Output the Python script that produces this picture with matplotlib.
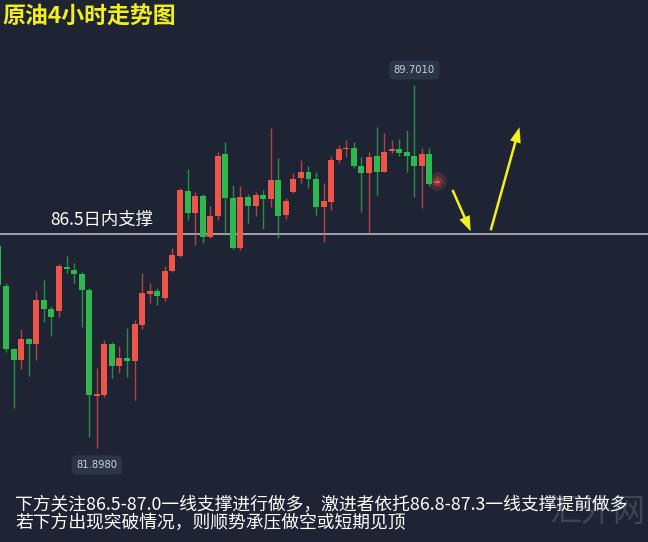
import matplotlib
matplotlib.use("Agg")
import matplotlib.pyplot as plt
import numpy as np

plt.rcParams['font.family'] = ['Noto Sans CJK SC', 'DejaVu Sans']

# 4-hour crude oil candles (price)
opens = [86.23, 85.37, 84.03, 83.79, 84.24, 84.13, 85.08, 84.89, 84.85, 85.77,
         85.72, 85.63, 85.29, 83.02, 83.03, 84.13, 83.65, 83.84, 83.77, 84.54,
         85.21, 85.28, 85.13, 85.70, 86.03, 87.43, 86.96, 87.32, 86.44, 86.88,
         88.21, 87.27, 86.19, 87.30, 87.09, 87.34, 87.25, 87.66, 86.91, 87.41,
         87.71, 87.84, 87.69, 87.07, 87.19, 88.09, 88.32, 88.34, 87.96, 87.80,
         88.18, 87.84, 88.28, 88.32, 88.25, 88.18, 87.96, 88.22, 87.59]
highs = [86.28, 85.44, 84.05, 84.46, 84.26, 85.28, 85.51, 84.94, 85.85, 86.03,
         85.87, 85.69, 85.34, 83.61, 84.22, 84.18, 84.08, 84.47, 84.65, 85.67,
         85.44, 85.33, 85.81, 86.20, 87.48, 87.89, 87.39, 87.36, 87.09, 88.25,
         88.48, 87.55, 87.53, 87.36, 87.39, 87.44, 88.77, 88.13, 87.27, 87.80,
         88.09, 87.96, 87.84, 87.59, 88.17, 88.41, 88.52, 88.48, 88.16, 88.26,
         88.79, 88.66, 88.52, 88.53, 88.73, 89.701, 88.34, 88.34, 87.71]
lows = [85.36, 83.97, 82.75, 83.59, 83.45, 83.79, 84.61, 84.31, 84.71, 85.66,
        85.44, 84.49, 82.14, 81.898, 83.00, 83.40, 83.50, 83.43, 82.94, 84.45,
        85.01, 84.97, 85.06, 85.68, 86.00, 86.80, 86.26, 86.31, 86.41, 86.80,
        86.48, 86.17, 86.15, 86.74, 86.89, 86.60, 87.07, 86.41, 86.81, 87.38,
        87.59, 87.49, 86.91, 86.33, 87.01, 88.03, 88.16, 87.91, 86.98, 86.52,
        87.34, 87.82, 88.23, 88.17, 87.84, 87.30, 87.05, 87.52, 87.57]
closes = [85.40, 84.02, 83.79, 84.24, 84.13, 85.08, 84.89, 84.72, 85.80, 85.75,
          85.63, 85.29, 83.04, 83.06, 84.13, 83.65, 83.84, 83.77, 84.56, 85.24,
          85.28, 85.17, 85.70, 86.05, 87.44, 86.96, 87.32, 86.44, 86.89, 88.18,
          87.27, 86.20, 87.30, 87.10, 87.34, 87.25, 87.66, 86.89, 87.21, 87.68,
          87.84, 87.69, 87.07, 87.21, 88.09, 88.32, 88.33, 87.96, 87.80, 88.16,
          87.84, 88.27, 88.33, 88.23, 88.18, 87.96, 88.22, 87.57, 87.64]

support_level = 86.5
support_label = "86.5日内支撑"
title_text = "原油4小时走势图"
note_lines = ["下方关注86.5-87.0一线支撑进行做多，激进者依托86.8-87.3一线支撑提前做多",
              "若下方出现突破情况，则顺势承压做空或短期见顶"]

BG = "#1e2434"
UP = "#ee5448"
DOWN = "#2fb84e"

fig = plt.figure(figsize=(6.48, 5.42), dpi=100, facecolor=BG)
ax = fig.add_axes([0, 0, 1, 1], facecolor=BG)
ax.set_axis_off()

o = np.array(opens); h = np.array(highs); l = np.array(lows); c = np.array(closes)
x = np.arange(len(o))
up = c >= o
cols = np.where(up, UP, DOWN)

# wicks
ax.vlines(x, l, h, colors=cols, linewidth=1.0, alpha=0.7, zorder=2)
# bodies
bottom = np.minimum(o, c)
height = np.maximum(np.abs(c - o), 0.035)
ax.bar(x, height, bottom=bottom, width=0.79, color=cols, linewidth=0, zorder=3)

ax.set_xlim(0.2, 85.9)
ax.set_ylim(79.877, 91.528)

# intraday support line
ax.axhline(support_level, color="#a9adb8", linewidth=1.3, zorder=1)
ax.text(6.8, support_level + 0.1, support_label, color="white", fontsize=12.5,
        ha="left", va="bottom", zorder=5)

# extreme-price tags
i_hi = int(np.argmax(h))
i_lo = int(np.argmin(l))
tag_box = dict(boxstyle="round,pad=0.45", fc="#2c3548", ec="none")
ax.annotate(f"{h[i_hi]:.4f}", xy=(i_hi, h[i_hi]), xytext=(0, 15),
            textcoords="offset pixels", ha="center", va="center",
            fontsize=7.2, color="#c9ceda", bbox=tag_box, zorder=6,
            family="DejaVu Sans")
ax.annotate(f"{l[i_lo]:.4f}", xy=(i_lo, l[i_lo]), xytext=(0, -17),
            textcoords="offset pixels", ha="center", va="center",
            fontsize=7.2, color="#c9ceda", bbox=tag_box, zorder=6,
            family="DejaVu Sans")

# glow on the live candle
last = len(o) - 1
ax.scatter([last], [c[last]], s=180, color=UP, alpha=0.18, linewidths=0, zorder=1)
ax.scatter([last], [c[last]], s=60, color=UP, alpha=0.25, linewidths=0, zorder=1)

# projected path: pull back to support, then rebound
arrow_kw = dict(arrowstyle="simple,head_length=1.1,head_width=0.8,tail_width=0.18",
                color="#f4f01c", lw=0)
ax.annotate("", xy=(62.6, support_level), xytext=(59.9, 87.50),
            arrowprops=arrow_kw, zorder=6)
ax.annotate("", xy=(69.0, 88.85), xytext=(65.0, support_level + 0.02),
            arrowprops=arrow_kw, zorder=6)

# title
fig.text(0.004, 1 - 17 / 542, title_text, color="#f2ee1e", fontsize=16.5,
         fontweight="bold", ha="left", va="center")

# site mark
fig.text(598 / 648, 1 - 512 / 542, "汇外网", color="#8a8f9a", alpha=0.3,
         fontsize=23, ha="center", va="center", zorder=0)

# commentary
fig.text(15 / 648, 1 - 505 / 542, note_lines[0], color="white", fontsize=12.8,
         ha="left", va="center", zorder=5)
fig.text(15 / 648, 1 - 523 / 542, note_lines[1], color="white", fontsize=12.8,
         ha="left", va="center", zorder=5)

fig.savefig("out.png", dpi=100, facecolor=BG)
